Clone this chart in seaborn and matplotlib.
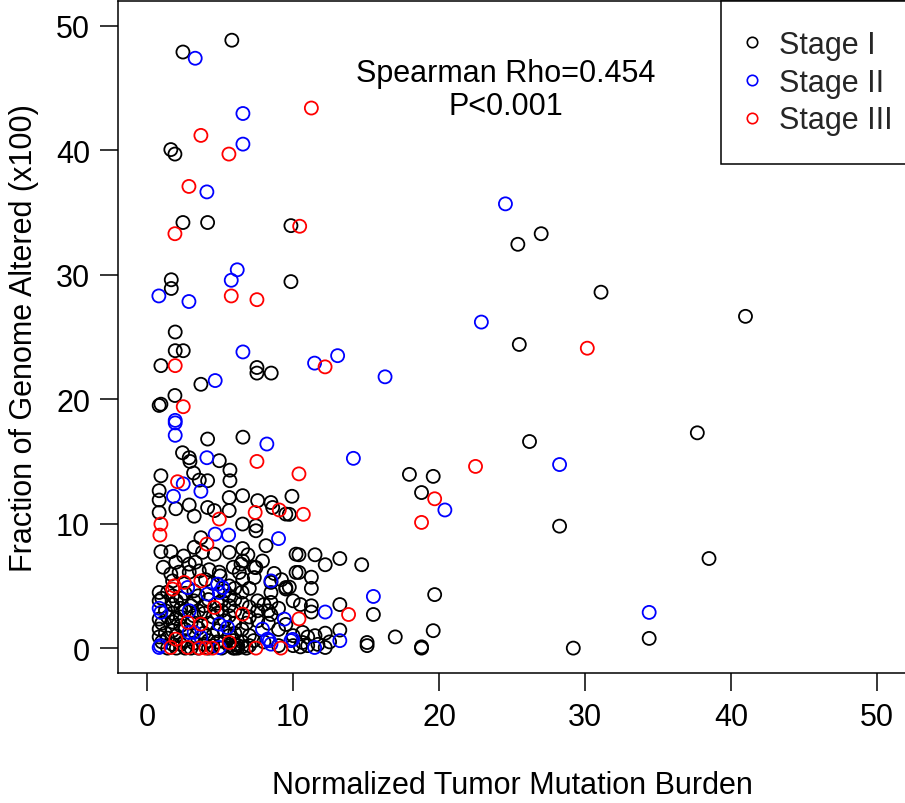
import matplotlib
matplotlib.use("Agg")
import matplotlib.pyplot as plt
from matplotlib.lines import Line2D
import seaborn as sns
import pandas as pd

# ---- data ----
stage1_x = [5.8, 2.45, 1.62, 1.9, 2.45, 4.14, 9.85, 1.65, 1.65, 9.85, 27.0, 25.4, 31.1, 41.0, 25.5,
            1.92, 1.92, 2.47, 0.94, 7.52, 7.52, 8.5, 3.68, 1.9, 0.82, 0.94, 4.14, 6.56, 26.2, 37.7,
            17.97, 19.6, 18.8, 9.92, 9.74, 28.26, 38.5, 34.4, 29.2, 10.4, 11.5, 12.2, 13.2, 14.7,
            10.4, 11.25, 11.25, 9.74, 19.7, 13.2, 11.25, 11.25, 15.5, 13.2, 12.2, 17.0, 19.6, 15.07,
            15.07, 18.8, 18.8, 10.65, 10.65, 12.2,
            2.42, 2.88, 2.93, 4.94, 0.94, 3.18, 3.57, 4.14, 5.67, 5.67, 0.82, 0.82, 0.82, 1.96, 2.88,
            3.22, 4.14, 4.6, 5.62, 5.62, 6.54, 7.57, 8.48, 8.6, 9.5, 6.54, 7.45, 7.45, 3.68,
            0.94, 1.62, 3.22, 3.79, 4.6, 5.62, 6.54, 6.54, 7.34, 8.14, 10.2, 10.2, 1.96, 2.88, 2.19,
            2.88, 3.57, 4.25, 4.94, 6.43, 6.31, 6.54, 7.45, 7.34, 1.62, 1.74,
            0.82, 0.82, 0.82, 0.82, 0.82, 1.25, 1.25,
            1.74, 1.74, 1.74, 1.74, 1.74, 1.74, 2.3, 2.3, 2.3, 2.3, 2.3, 2.6,
            3.2, 3.2, 3.2, 3.2, 3.9, 3.9, 3.9, 3.9, 4.5, 4.5, 4.5, 4.5, 5.1, 5.1, 5.1,
            5.62, 5.62, 5.62, 5.62, 5.62, 5.62, 6.0, 6.0, 6.0, 6.0, 6.0, 6.0, 6.0,
            6.5, 6.5, 6.5, 6.5, 6.5, 7.0, 7.0, 7.0, 7.0, 7.0, 7.57, 7.57, 7.57, 8.0, 8.0,
            8.48, 8.48, 8.48, 8.48, 9.0, 9.0, 9.0, 9.5, 9.5, 9.5, 10.0, 10.0, 10.0,
            11.0, 11.0, 11.7, 12.5,
            1.0, 1.0, 1.0, 1.4, 1.4, 1.4, 1.4, 2.0, 2.0, 2.0, 2.0, 2.6, 2.6, 2.6, 2.6,
            3.0, 3.0, 3.0, 3.5, 3.5, 3.5, 3.5, 4.2, 4.2, 4.2, 4.2, 4.8, 4.8, 4.8, 4.8,
            5.3, 5.3, 5.3, 5.3, 5.9, 5.9, 6.2, 6.2, 6.8, 6.8, 7.3, 8.3, 8.3, 10.5, 10.5, 11.5,
            1.1, 2.5, 3.3, 4.0, 5.0, 5.9, 6.9, 7.9, 8.7, 9.2]
stage1_y = [48.85, 47.9, 40.06, 39.7, 34.2, 34.2, 33.95, 29.6, 28.9, 29.45, 33.3, 32.45, 28.6, 26.66, 24.4,
            25.4, 23.9, 23.9, 22.7, 22.55, 22.1, 22.1, 21.2, 20.3, 19.5, 19.6, 16.8, 16.95, 16.6, 17.3,
            13.96, 13.8, 12.5, 12.2, 10.75, 9.8, 7.2, 0.78, 0.0, 7.5, 7.5, 6.7, 7.2, 6.7,
            6.08, 5.7, 4.8, 4.9, 4.3, 3.5, 3.4, 2.9, 2.7, 1.45, 1.2, 0.9, 1.4, 0.45,
            0.2, 0.0, 0.1, 1.26, 0.45, 0.05,
            15.7, 15.3, 15.0, 15.06, 13.85, 14.07, 13.5, 13.45, 14.3, 13.45, 12.65, 11.9, 10.9, 11.2, 11.5,
            10.6, 11.3, 11.05, 12.1, 11.05, 12.25, 11.85, 11.7, 11.3, 10.77, 9.97, 9.83, 9.43, 8.87,
            7.75, 7.75, 8.1, 7.7, 7.55, 7.7, 8.0, 7.0, 6.5, 8.23, 7.55, 6.08, 6.9, 6.75, 6.1,
            6.1, 6.2, 6.3, 6.1, 6.75, 6.08, 5.55, 6.47, 5.67, 5.95, 5.4,
            4.47, 3.8, 2.33, 1.53, 0.9, 3.0, 1.2,
            4.2, 3.5, 2.8, 2.1, 1.4, 0.3, 4.0, 3.2, 2.5, 1.8, 0.3, 0.0,
            4.6, 3.8, 2.6, 0.4, 3.4, 2.8, 1.2, 0.3, 5.2, 2.5, 1.0, 0.2, 3.8, 3.0, 0.0,
            5.0, 4.2, 3.4, 2.6, 1.0, 0.2, 4.8, 3.9, 3.0, 2.0, 1.2, 0.3, 0.0,
            4.5, 3.6, 1.5, 0.5, 0.1, 4.8, 3.3, 2.5, 1.0, 0.2, 3.8, 3.0, 2.2, 3.5, 0.5,
            5.28, 4.47, 3.67, 2.7, 3.2, 1.5, 0.2, 4.87, 4.75, 1.9, 3.8, 1.0, 0.2,
            0.9, 0.2, 0.3, 0.5,
            4.0, 2.0, 0.5, 4.5, 2.5, 0.8, 0.0, 3.8, 2.4, 1.0, 0.0, 4.4, 3.0, 1.5, 0.6,
            3.4, 2.0, 0.0, 4.2, 3.0, 1.6, 0.0, 3.9, 2.0, 0.6, 0.0, 3.6, 2.8, 1.4, 0.5,
            4.6, 2.2, 1.3, 0.5, 0.6, 0.0, 0.2, 0.0, 0.0, 2.0, 0.6, 3.0, 2.0, 0.1, 3.5, 1.0,
            6.5, 7.4, 6.9, 5.5, 5.8, 6.5, 7.5, 7.0, 6.0, 5.5]

stage2_x = [3.29, 6.56, 6.56, 4.09, 24.55, 6.17, 5.76, 0.8, 2.86, 22.9, 6.56, 11.47, 13.05, 16.3,
            4.66, 1.92, 1.92, 1.92, 8.2, 14.13, 28.26, 20.4, 4.09, 2.47, 3.68, 1.8, 4.66, 5.58,
            9.0, 8.48, 2.77, 4.83, 5.17, 4.94, 4.14, 15.5, 34.4, 0.94, 0.82, 2.88, 2.88, 3.22,
            3.68, 4.94, 5.5, 7.9, 8.37, 8.48, 9.4, 9.85, 9.97, 12.2, 13.2, 11.47, 0.82, 0.9,
            4.94, 8.25]
stage2_y = [47.4, 42.96, 40.5, 36.66, 35.7, 30.4, 29.56, 28.3, 27.85, 26.2, 23.8, 22.9, 23.5, 21.8,
            21.5, 18.3, 18.1, 17.1, 16.4, 15.25, 14.75, 11.1, 15.3, 13.2, 12.6, 12.2, 9.16, 9.08,
            8.8, 5.4, 4.87, 5.14, 4.87, 4.47, 4.34, 4.15, 2.87, 2.87, 3.2, 3.0, 1.26, 1.26,
            0.86, 1.93, 1.66, 1.53, 0.6, 0.32, 2.33, 0.6, 0.7, 2.9, 0.6, 0.05, 0.05, 0.2,
            0.05, 0.72]

stage3_x = [11.25, 3.68, 5.6, 2.86, 1.9, 10.45, 5.76, 7.52, 1.92, 12.19, 2.47, 30.16, 22.5, 10.4,
            7.52, 19.7, 18.8, 10.7, 2.08, 4.94, 7.4, 9.05, 0.94, 0.87, 4.09, 1.85, 2.54, 3.68,
            1.74, 4.6, 2.77, 3.68, 6.54, 10.4, 13.8, 1.62, 1.96, 2.77, 3.57, 4.02, 4.48, 5.62,
            7.45, 9.16]
stage3_y = [43.4, 41.2, 39.7, 37.1, 33.3, 33.9, 28.3, 28.0, 22.7, 22.6, 19.4, 24.1, 14.6, 14.0,
            15.0, 12.0, 10.1, 10.75, 13.37, 10.37, 10.9, 11.1, 9.97, 9.08, 8.36, 5.0, 5.28, 5.4,
            4.74, 3.27, 2.07, 1.93, 2.73, 2.35, 2.7, 0.05, 0.72, 0.05, 0.0, 0.0, 0.0, 0.45,
            0.0, 0.0]

stages = ["Stage I", "Stage II", "Stage III"]
colors = ["black", "blue", "red"]
x_ticks = [0, 10, 20, 30, 40, 50]
y_ticks = [0, 10, 20, 30, 40, 50]
annot_text = "Spearman Rho=0.454\nP<0.001"

df = pd.DataFrame({
    "tmb": stage1_x + stage2_x + stage3_x,
    "fga": stage1_y + stage2_y + stage3_y,
    "stage": [stages[0]] * len(stage1_x) + [stages[1]] * len(stage2_x) + [stages[2]] * len(stage3_x),
})

sns.set_theme(style="white")
plt.rcParams["font.family"] = ["Liberation Sans", "DejaVu Sans"]

fig = plt.figure(figsize=(9.05, 8.04), dpi=100)
ax = fig.add_axes([0.1304, 0.1617, 0.8707, 0.8358])

sns.scatterplot(data=df, x="tmb", y="fga", hue="stage", hue_order=stages,
                palette=dict(zip(stages, colors)), s=88, marker="o",
                linewidth=1.3, legend=False, ax=ax)
coll = ax.collections[0]
fcs = coll.get_facecolors()
coll.set_edgecolors(fcs)
coll.set_facecolors("none")
coll.set_linewidths(1.3)

ax.set_xlim(-2, 52)
ax.set_ylim(-2, 52)
ax.set_xticks(x_ticks)
ax.set_yticks(y_ticks)
ax.tick_params(axis="both", which="both", direction="out", length=13, width=1.1,
               color="black", labelsize=22, labelcolor="black", bottom=True, left=True)
ax.tick_params(axis="x", pad=8)
ax.tick_params(axis="y", pad=7)
for sp in ax.spines.values():
    sp.set_visible(True)
    sp.set_color("black")
    sp.set_linewidth(1.1)

ax.set_xlabel("Normalized Tumor Mutation Burden", fontsize=22, color="black", labelpad=27)
ax.set_ylabel("Fraction of Genome Altered (x100)", fontsize=22, color="black", labelpad=12)

ax.text(24.6, 44.9, annot_text, ha="center", va="center", multialignment="center",
        fontsize=22, color="black", linespacing=1.12)

handles = [Line2D([0], [0], marker="o", linestyle="none", markerfacecolor="none",
                  markeredgecolor=c, markersize=7.5, markeredgewidth=1.2) for c in colors]
leg = ax.legend(handles, stages, loc="upper right", bbox_to_anchor=(1.0203, 1.0),
                borderaxespad=0, fontsize=22,
                frameon=True, fancybox=False, edgecolor="black", framealpha=1,
                borderpad=0.95, handlelength=0.13, handletextpad=0.82, labelspacing=0.25)
leg.get_frame().set_linewidth(1.1)

fig.savefig("out.png", dpi=100, facecolor="white")
